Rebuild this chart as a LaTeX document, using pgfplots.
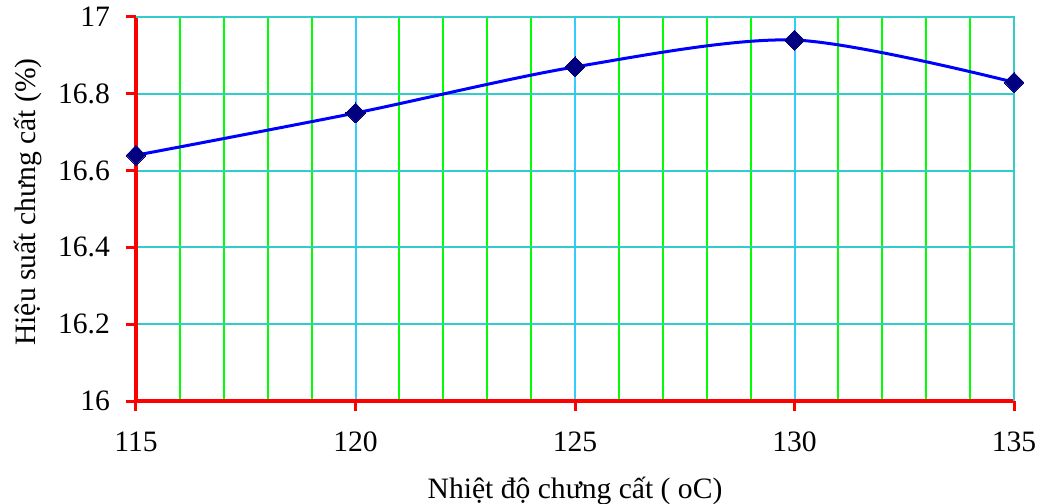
\documentclass[border=0pt]{standalone}
\usepackage{fontspec}
\setmainfont{Liberation Serif}
\usepackage{pgfplots}
\pgfplotsset{compat=1.18}
\usetikzlibrary{calc}

\definecolor{gridgreen}{RGB}{0,255,0}
\definecolor{gridsky}{RGB}{51,204,255}
\definecolor{gridteal}{RGB}{51,204,204}
\definecolor{navymark}{RGB}{0,0,128}

\begin{document}
\begin{tikzpicture}[font=\fontsize{14.8}{17}\selectfont]
\begin{axis}[
    name=main,
    scale only axis,
    width=439pt, height=192pt,
    xmin=115, xmax=135,
    ymin=16, ymax=17,
    xtick={115,120,125,130,135},
    ytick={16,16.2,16.4,16.6,16.8,17},
    yticklabel style={/pgf/number format/fixed, /pgf/number format/precision=1, xshift=-4.5pt},
    xticklabel style={yshift=-7pt},
    /pgf/number format/assume math mode=true,
    minor x tick num=4,
    axis lines=left,
    axis line style={red, line width=2pt, -},
    tick style={red, line width=1.5pt},
    tick align=outside,
    major tick length=5pt,
    minor tick length=0pt,
    xmajorgrids, ymajorgrids, xminorgrids,
    major x grid style={gridsky, line width=1pt},
    minor x grid style={gridgreen, line width=1pt},
    major y grid style={gridteal, line width=1pt},
    xlabel={Nhiệt độ chưng cất ( oC)},
    ylabel={Hiệu suất chưng cất (\%)},
    xlabel style={at={(axis description cs:0.5,0)}, anchor=base, yshift=-48.5pt},
    ylabel style={at={(axis description cs:0,0.5)}, anchor=center, rotate=0, xshift=3.5pt, yshift=54pt},
    clip=false,
]
\draw[gridteal, line width=1pt] (rel axis cs:0,1) -- (rel axis cs:1,1) -- (rel axis cs:1,0);
\addplot[blue, line width=1.5pt, smooth, tension=0.5,
    mark=diamond*, mark size=5pt,
    mark options={navymark, fill=navymark, draw=navymark, xscale=1.33, line width=0pt}]
    coordinates {
    (115,16.64) (120,16.75) (125,16.87) (130,16.94) (135,16.83)
};
\coordinate (bl) at (rel axis cs:0,0);
\end{axis}
\pgfresetboundingbox
\useasboundingbox ($(bl)+(-68pt,-51pt)$) rectangle ($(bl)+(453pt,200.5pt)$);
\end{tikzpicture}
\end{document}
